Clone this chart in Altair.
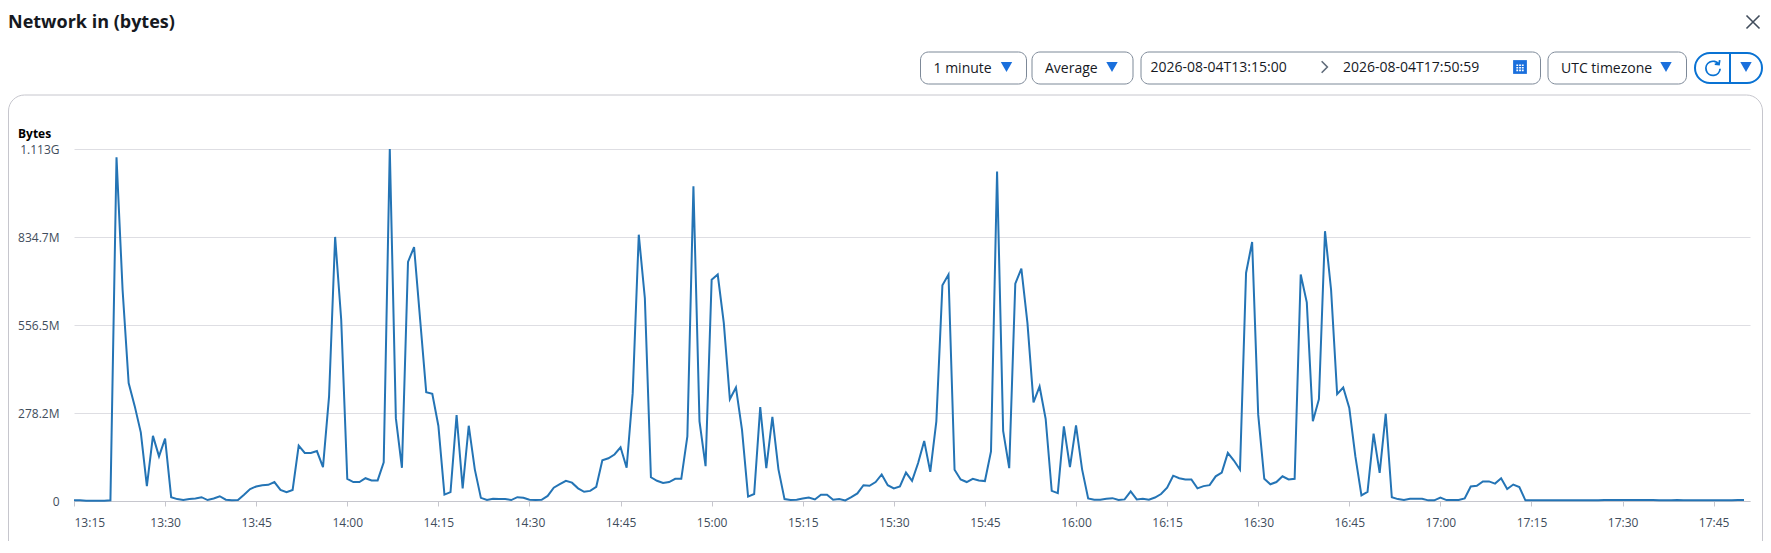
import altair as alt
import pandas as pd

# Average network in, millions of bytes, one value per minute from 13:15
values_a = [2, 2, 1, 1, 1, 1, 2, 1087, 668, 373, 300, 217, 47, 206, 141, 197, 12]
values_b = [6, 3, 6, 8, 12, 3, 8, 15, 4, 2, 3, 20, 38, 46, 50, 51, 60, 35, 28, 35]
values_c = [175, 152, 152, 158, 107, 331, 835, 573, 70, 60, 60, 72, 65, 65, 122, 1113, 262, 105, 756, 803]
values_d = [573, 344, 339, 238, 20, 28, 272, 40, 238, 100, 10, 3, 7, 6, 6, 3, 12, 10, 4, 3]
values_e = [4, 16, 42, 53, 64, 58, 40, 29, 32, 45, 129, 135, 147, 170, 105, 341, 842, 642, 75, 64]
values_f = [57, 60, 70, 70, 204, 995, 252, 110, 700, 716, 563, 322, 359, 225, 14, 22, 297, 104, 266, 100]
values_g = [6, 3, 4, 8, 11, 5, 20, 20, 4, 6, 2, 12, 24, 50, 48, 60, 84, 50, 40, 46]
values_h = [90, 64, 120, 190, 92, 252, 682, 716, 99, 68, 60, 70, 65, 63, 157, 1042, 222, 104, 687, 735]
values_i = [563, 312, 362, 260, 32, 25, 236, 107, 239, 100, 8, 4, 4, 7, 9, 3, 5, 30, 5, 7]
values_j = [4, 11, 22, 42, 80, 72, 68, 68, 40, 47, 50, 78, 90, 152, 128, 99, 721, 819, 273, 70]
values_k = [53, 60, 78, 68, 70, 716, 628, 252, 322, 853, 668, 338, 359, 294, 141, 18, 29, 213, 89, 276]
values_l = [12, 6, 3, 7, 7, 7, 2, 2, 11, 3, 3, 3, 8, 46, 48, 62, 62, 55, 72, 38]
values_m = [52, 44, 2, 2, 2, 2, 2, 2, 2, 2, 2, 2, 2, 2, 2, 3, 3, 3, 3, 3,
            3, 3, 3, 3, 2, 2, 2, 3, 2, 2, 2, 2, 2, 2, 2, 2, 2, 3, 3]
series = (values_a + values_b + values_c + values_d + values_e + values_f + values_g
          + values_h + values_i + values_j + values_k + values_l + values_m)

y_ticks = [0, 278.2, 556.5, 834.7, 1113]
y_tick_labels = ["0", "278.2M", "556.5M", "834.7M", "1.113G"]
x_tick_labels = ["13:15", "13:30", "13:45", "14:00", "14:15", "14:30", "14:45", "15:00", "15:15", "15:30",
                 "15:45", "16:00", "16:15", "16:30", "16:45", "17:00", "17:15", "17:30", "17:45"]
title_text = "Network in (bytes)"
unit_text = "Bytes"
start = "2026-08-04T13:15:00"
end = "2026-08-04T17:50:59"

FONT = "Open Sans"
INK = "#16191f"
BLUE = "#0972d3"
ARROW = "#1a6fdc"
GREY = "#7d8998"
OX, OY = 74, 149   # page position of the plot origin


def ms(stamp):
    return int(pd.Timestamp(stamp, tz="UTC").timestamp() * 1000)


x_values = [ms(f"2026-08-04T{t}:00") for t in x_tick_labels]

df = pd.DataFrame({
    "time": [ms(start) + i * 60000 for i in range(len(series))],
    "bytes": series,
})
one = pd.DataFrame({"k": [0]})

label_expr = "".join(f"datum.value == {v} ? '{l}' : " for v, l in zip(y_ticks, y_tick_labels)) + "''"

line = alt.Chart(df).mark_line(color="#2474b5", strokeWidth=2, clip=False).encode(
    x=alt.X("time:Q", title=None,
            scale=alt.Scale(domain=[ms(start), ms(end)], nice=False, zero=False),
            axis=alt.Axis(values=x_values, labelExpr="utcFormat(datum.value, '%H:%M')",
                          grid=False, labelFont=FONT, labelFontSize=12, labelColor="#414d5c",
                          domainColor="#c6c6cd", tickColor="#c6c6cd", tickSize=5, labelPadding=11,
                          labelOverlap=False)),
    y=alt.Y("bytes:Q", title=None, scale=alt.Scale(domain=[0, 1113], nice=False),
            axis=alt.Axis(values=y_ticks, labelExpr=label_expr, grid=True, gridColor="#dedee3",
                          gridWidth=1, domain=False, ticks=False, labelPadding=15, labelFont=FONT,
                          labelFontSize=12, labelColor="#414d5c")),
)


def text(label, x, y, size=14, weight="normal", color=INK, align="left"):
    return alt.Chart(one).mark_text(font=FONT, fontSize=size, fontWeight=weight, color=color,
                                    align=align, baseline="middle", clip=False).encode(
        x=alt.value(x - OX), y=alt.value(y - OY), text=alt.value(label))


def box(x0, x1, y0, y1, radius=8, stroke=GREY, width=1):
    return alt.Chart(one).mark_rect(cornerRadius=radius, fill="transparent", stroke=stroke,
                                    strokeWidth=width, clip=False).encode(
        x=alt.value(x0 - OX), x2=alt.value(x1 - OX), y=alt.value(y0 - OY), y2=alt.value(y1 - OY))


def glyph(shape, x, y, size, filled=True, color=ARROW, width=1.5):
    return alt.Chart(one).mark_point(shape=shape, size=size, filled=filled, color=color,
                                     strokeWidth=width, opacity=1, clip=False).encode(
        x=alt.value(x - OX), y=alt.value(y - OY))


furniture = [
    box(8.5, 1762.5, 95, 640, radius=16, stroke="#c6c6cd"),
    text(title_text, 8, 23, size=18, weight="bold"),
    glyph("M-1,-1L1,1M-1,1L1,-1", 1753, 22, 170, filled=False, color="#414d5c", width=1.6),
    box(920.5, 1026.5, 52, 84), text("1 minute", 933.5, 69),
    glyph("triangle-down", 1006.5, 67, 130),
    box(1032, 1133, 52, 84), text("Average", 1045, 69),
    glyph("triangle-down", 1112, 67, 130),
    box(1141, 1540.5, 52, 84), text("2026-08-04T13:15:00", 1150.5, 67.5),
    glyph("M-0.5,-1L0.5,0L-0.5,1", 1324.5, 67, 130, filled=False, color="#5f6b7a", width=1.6),
    text("2026-08-04T17:50:59", 1343, 67.5),
    glyph("square", 1520, 67, 190),
    glyph("M-.7,-.5h.35v.3h-.35zM-.17,-.5h.35v.3h-.35zM.35,-.5h.35v.3h-.35zM-.7,0h.35v.3h-.35z"
          "M-.17,0h.35v.3h-.35zM.35,0h.35v.3h-.35zM-.7,.5h.35v.3h-.35zM-.17,.5h.35v.3h-.35zM.35,.5h.35v.3h-.35z",
          1520, 67, 110, color="white"),
    box(1548, 1686.5, 52, 84), text("UTC timezone", 1561, 69),
    glyph("triangle-down", 1666, 67, 130),
    box(1695, 1762, 53, 83, radius=15, stroke=BLUE, width=2),
    alt.Chart(one).mark_rule(color=BLUE, strokeWidth=2, clip=False).encode(
        x=alt.value(1730 - OX), y=alt.value(53 - OY), y2=alt.value(83 - OY)),
    glyph("M.8,-.55A1,1,0,1,0,1,.1M.95,-1.1L.85,-.5L.25,-.55", 1713, 68, 200, filled=False, color=BLUE, width=1.8),
    glyph("triangle-down", 1746, 67, 130),
    text(unit_text, 18, 134, size=12, weight="bold", color="#000000"),
]

chart = alt.layer(line, *furniture).properties(
    width=1676, height=352,
    background="white",
    autosize=alt.AutoSizeParams(type="none"),
    padding={"left": 66, "top": 141, "right": 13, "bottom": 40},
).configure_view(stroke=None)

chart.save("out.html", embed_options={"renderer": "svg", "actions": False})
